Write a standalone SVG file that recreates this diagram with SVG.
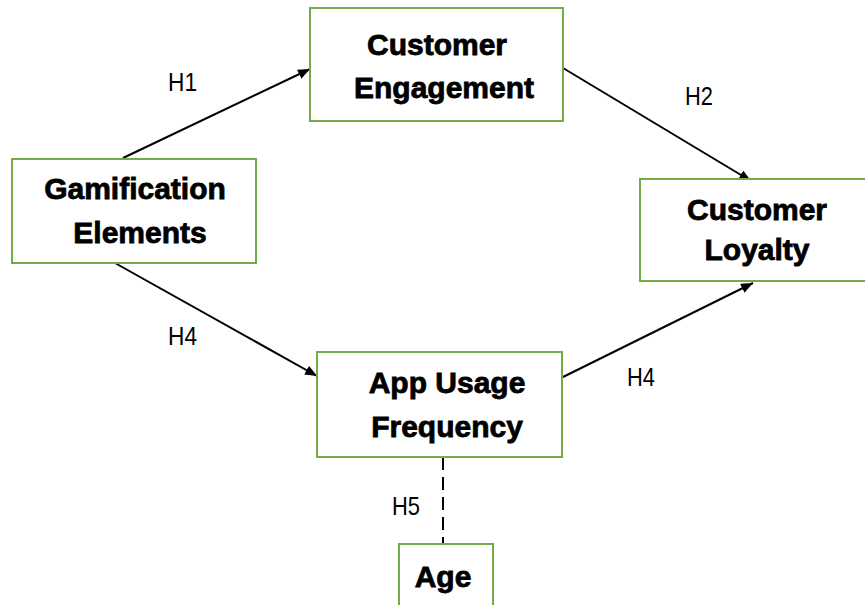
<svg xmlns="http://www.w3.org/2000/svg" width="865" height="605" viewBox="0 0 865 605">
  <style>
    .box { fill: #ffffff; stroke: #70ad47; stroke-width: 2; }
    .title { font-family: "Liberation Sans", Arial, sans-serif; font-weight: bold; font-size: 30px; fill: #000; stroke: #000; stroke-width: 0.8; text-anchor: middle; }
    .edge { stroke: #000; stroke-width: 2; fill: none; }
    .dash { stroke: #000; stroke-width: 2; fill: none; stroke-dasharray: 13 7; }
    .lbl { font-family: "Liberation Sans", Arial, sans-serif; font-size: 25px; fill: #000; }
  </style>
  <defs>
    <marker id="arrow" viewBox="0 0 12 10" refX="12" refY="5" markerWidth="12" markerHeight="10" markerUnits="userSpaceOnUse" orient="auto">
      <path d="M0,0 L12,5 L0,10 Z" fill="#000"/>
    </marker>
  </defs>
  <rect width="865" height="605" fill="#ffffff"/>

  <g id="connectors">
    <line class="edge" x1="123" y1="158" x2="310" y2="69" marker-end="url(#arrow)"/>
    <line class="edge" x1="563" y1="68" x2="751" y2="181" marker-end="url(#arrow)"/>
    <line class="edge" x1="115" y1="263" x2="317" y2="376" marker-end="url(#arrow)"/>
    <line class="edge" x1="563" y1="377" x2="753" y2="283" marker-end="url(#arrow)"/>
    <line class="dash" x1="443" y1="457" x2="443" y2="544"/>
    <text class="lbl" x="168" y="91" textLength="29" lengthAdjust="spacingAndGlyphs">H1</text>
    <text class="lbl" x="685" y="105" textLength="28" lengthAdjust="spacingAndGlyphs">H2</text>
    <text class="lbl" x="168" y="345" textLength="29" lengthAdjust="spacingAndGlyphs">H4</text>
    <text class="lbl" x="627" y="386" textLength="28" lengthAdjust="spacingAndGlyphs">H4</text>
    <text class="lbl" x="392" y="515" textLength="28" lengthAdjust="spacingAndGlyphs">H5</text>
  </g>

  <g id="customer-engagement">
    <rect class="box" x="310" y="8" width="253" height="113"/>
    <text class="title" x="437" y="55">Customer</text>
    <text class="title" x="444" y="98">Engagement</text>
  </g>

  <g id="gamification-elements">
    <rect class="box" x="12" y="159" width="244" height="104"/>
    <text class="title" x="135" y="199">Gamification</text>
    <text class="title" x="140" y="243">Elements</text>
  </g>

  <g id="customer-loyalty">
    <rect class="box" x="640" y="179" width="230" height="102"/>
    <text class="title" x="757" y="220">Customer</text>
    <text class="title" x="757" y="260">Loyalty</text>
  </g>

  <g id="app-usage-frequency">
    <rect class="box" x="317" y="352" width="245" height="105"/>
    <text class="title" x="447" y="393">App Usage</text>
    <text class="title" x="447" y="437">Frequency</text>
  </g>

  <g id="age">
    <rect class="box" x="399" y="544" width="94" height="70"/>
    <text class="title" x="443" y="587">Age</text>
  </g>
</svg>
